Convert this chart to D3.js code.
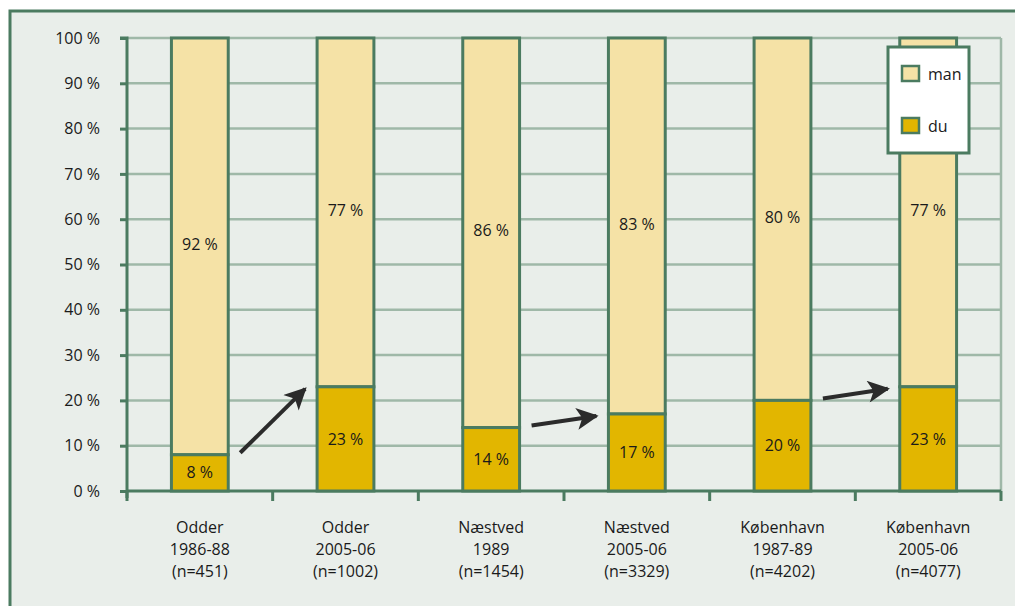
<!DOCTYPE html>
<html>
<head>
<meta charset="utf-8">
<style type="text/css">
    body { margin: 0; background: #ffffff; }
    text {
        font-family: "Open Sans", Lato, sans-serif;
        font-size: 16px;
        fill: #1a1a1a;
    }
    .grid line { stroke: #9fb8a8; stroke-width: 2.5; }
    .axis path, .axis line { stroke: #4b7b60; stroke-width: 3; }
</style>
</head>
<body>
<svg id="chart"></svg>
<script src="https://cdnjs.cloudflare.com/ajax/libs/d3/7.8.5/d3.min.js"></script>
<script type="text/javascript">
// data
var places = ["Odder", "Odder", "Næstved", "Næstved", "København", "København"];
var periods = ["1986-88", "2005-06", "1989", "2005-06", "1987-89", "2005-06"];
var sizes = ["(n=451)", "(n=1002)", "(n=1454)", "(n=3329)", "(n=4202)", "(n=4077)"];
var du = [8, 23, 14, 17, 20, 23];
var man = [92, 77, 86, 83, 80, 77];
var yTicks = [0, 10, 20, 30, 40, 50, 60, 70, 80, 90, 100];
// arrows go from bar i to bar i+1
var arrowPairs = [[0, 1], [2, 3], [4, 5]];

var W = 1015, H = 606;
var margin = {left: 127, right: 14, top: 38, bottom: 115};
var green = "#4b7b60";

var svg = d3.select("#chart").attr("width", W).attr("height", H);

// frame
svg.append("rect")
    .attr("x", 10).attr("y", 11).attr("width", W + 20).attr("height", H + 20)
    .attr("fill", "#e9eeea").attr("stroke", green).attr("stroke-width", 3);

var x = d3.scaleBand().domain(d3.range(places.length))
    .range([margin.left, W - margin.right]).paddingInner(0.61).paddingOuter(0.305);
var xTick = d3.scaleLinear().domain([0, places.length]).range([margin.left, W - margin.right]);
var y = d3.scaleLinear().domain([0, 100]).range([H - margin.bottom, margin.top]);

// grid
var grid = svg.append("g").attr("class", "grid");
grid.selectAll("line.h").data(yTicks.filter(function(d) { return d > 0; }))
    .enter().append("line").attr("class", "h")
    .attr("x1", margin.left).attr("x2", W - margin.right)
    .attr("y1", function(d) { return y(d); }).attr("y2", function(d) { return y(d); });
grid.append("line")
    .attr("x1", W - margin.right).attr("x2", W - margin.right)
    .attr("y1", y(100)).attr("y2", y(0));

// axes
var yAxis = d3.axisLeft(y).tickValues(yTicks).tickSize(7).tickPadding(20)
    .tickFormat(function(d) { return d + " %"; });
var gy = svg.append("g").attr("class", "axis")
    .attr("transform", "translate(" + margin.left + ",0)").call(yAxis);
gy.select(".domain").attr("d", "M-7," + y(100) + "H0V" + (y(0) + 7));

var gx = svg.append("g").attr("class", "axis");
gx.append("line").attr("x1", margin.left).attr("x2", W - margin.right)
    .attr("y1", y(0)).attr("y2", y(0));
gx.selectAll("line.t").data(d3.range(places.length + 1)).enter().append("line")
    .attr("class", "t")
    .attr("x1", function(d) { return xTick(d); }).attr("x2", function(d) { return xTick(d); })
    .attr("y1", y(0)).attr("y2", y(0) + 10);
svg.selectAll(".axis text").attr("fill", "#1a1a1a").style("font-size", "16px")
    .style("font-family", "'Open Sans', Lato, sans-serif");

// bars
var bars = svg.append("g").selectAll("g").data(d3.range(places.length)).enter().append("g");
bars.append("rect")
    .attr("x", function(i) { return x(i); }).attr("width", x.bandwidth())
    .attr("y", function(i) { return y(du[i] + man[i]); })
    .attr("height", function(i) { return y(du[i]) - y(du[i] + man[i]); })
    .attr("fill", "#f5e2a6").attr("stroke", green).attr("stroke-width", 3);
bars.append("rect")
    .attr("x", function(i) { return x(i); }).attr("width", x.bandwidth())
    .attr("y", function(i) { return y(du[i]); })
    .attr("height", function(i) { return y(0) - y(du[i]); })
    .attr("fill", "#e2b600").attr("stroke", green).attr("stroke-width", 3);
bars.append("text")
    .attr("x", function(i) { return x(i) + x.bandwidth() / 2; })
    .attr("y", function(i) { return (y(du[i]) + y(du[i] + man[i])) / 2 - 2; })
    .attr("text-anchor", "middle").attr("dy", "0.35em")
    .text(function(i) { return man[i] + " %"; });
bars.append("text")
    .attr("x", function(i) { return x(i) + x.bandwidth() / 2; })
    .attr("y", function(i) { return (y(0) + y(du[i])) / 2; })
    .attr("text-anchor", "middle").attr("dy", "0.35em")
    .text(function(i) { return du[i] + " %"; });

// category labels
var lab = svg.append("g").selectAll("text").data(d3.range(places.length)).enter().append("text")
    .attr("text-anchor", "middle")
    .attr("transform", function(i) { return "translate(" + (x(i) + x.bandwidth() / 2) + "," + (y(0) + 42) + ")"; });
lab.append("tspan").attr("x", 0).attr("y", 0).text(function(i) { return places[i]; });
lab.append("tspan").attr("x", 0).attr("y", 22).text(function(i) { return periods[i]; });
lab.append("tspan").attr("x", 0).attr("y", 44).text(function(i) { return sizes[i]; });

// arrows between bars
svg.append("defs").append("marker")
    .attr("id", "head").attr("viewBox", "0 0 10 10").attr("refX", 9).attr("refY", 5)
    .attr("markerWidth", 6).attr("markerHeight", 5.5).attr("orient", "auto")
    .attr("markerUnits", "strokeWidth")
    .append("path").attr("d", "M0,0L10,5L0,10L2.5,5Z").attr("fill", "#2b2b2b");
svg.append("g").selectAll("line").data(arrowPairs).enter().append("line")
    .attr("x1", function(p) { return x(p[0]) + x.bandwidth() + 12; })
    .attr("y1", function(p) { return y(du[p[0]]) - 2; })
    .attr("x2", function(p) { return x(p[1]) - 12; })
    .attr("y2", function(p) { return y(du[p[1]]) + 2; })
    .attr("stroke", "#2b2b2b").attr("stroke-width", 4).attr("marker-end", "url(#head)");

// legend
var leg = svg.append("g").attr("transform", "translate(888,47)");
leg.append("rect").attr("width", 81).attr("height", 106)
    .attr("fill", "#ffffff").attr("stroke", green).attr("stroke-width", 3);
var items = [["man", "#f5e2a6"], ["du", "#e2b600"]];
var li = leg.selectAll("g").data(items).enter().append("g")
    .attr("transform", function(d, i) { return "translate(14," + (19 + i * 52) + ")"; });
li.append("rect").attr("width", 17).attr("height", 15)
    .attr("fill", function(d) { return d[1]; }).attr("stroke", green).attr("stroke-width", 2.5);
li.append("text").attr("x", 26).attr("y", 8).attr("dy", "0.35em").text(function(d) { return d[0]; });
</script>
</body>
</html>
